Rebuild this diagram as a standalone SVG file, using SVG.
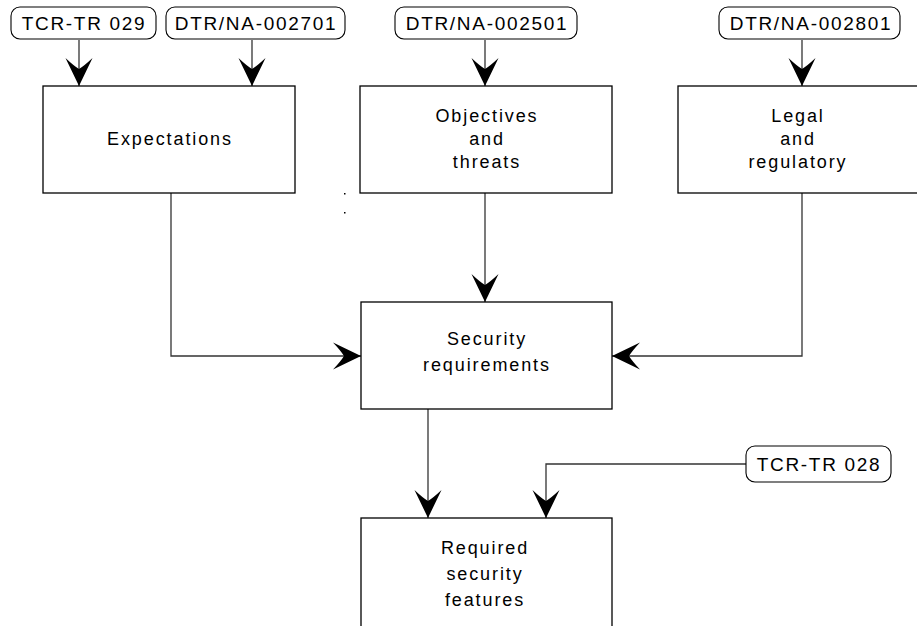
<svg xmlns="http://www.w3.org/2000/svg" width="917" height="626" viewBox="0 0 917 626">
<style>
.box{fill:#fff;stroke:#000;stroke-width:1.3}
.tag{fill:#fff;stroke:#000;stroke-width:1.1}
.t{font-family:"Liberation Sans",Arial,sans-serif;font-size:18px;letter-spacing:1.9px;text-anchor:middle;fill:#000}
.tg{font-family:"Liberation Sans",Arial,sans-serif;font-size:19px;letter-spacing:1.7px;text-anchor:middle;fill:#000}
.c{fill:none;stroke:#333;stroke-width:1.3;marker-end:url(#ah)}
</style>
<defs>
<marker id="ah" markerUnits="userSpaceOnUse" viewBox="-29 -15 30 30" refX="0" refY="0" markerWidth="30" markerHeight="30" orient="auto">
<path d="M0,0 L-28,-13.5 Q-20,-5 -17,0 Q-20,5 -28,13.5 Z" fill="#000"/>
</marker>
</defs>
<rect width="917" height="626" fill="#fff"/>
<g id="connectors">
<path class="c" d="M79,40 V86"/>
<path class="c" d="M252,40 V86"/>
<path class="c" d="M485,40 V86"/>
<path class="c" d="M802,40 V86"/>
<path class="c" d="M171,193 V356 H361"/>
<path class="c" d="M485,193 V302"/>
<path class="c" d="M802,193 V356 H612"/>
<path class="c" d="M428,409 V518"/>
<path class="c" d="M746,464 H546 V518"/>
</g>
<g id="tag-tcr029"><rect class="tag" x="11" y="7" width="145" height="32" rx="9"/><text class="tg" x="84" y="30">TCR-TR 029</text></g>
<g id="tag-dtr2701"><rect class="tag" x="166" y="7" width="179" height="32" rx="9"/><text class="tg" x="256" y="30">DTR/NA-002701</text></g>
<g id="tag-dtr2501"><rect class="tag" x="395" y="7" width="182" height="32" rx="9"/><text class="tg" x="487" y="30">DTR/NA-002501</text></g>
<g id="tag-dtr2801"><rect class="tag" x="719" y="7" width="181" height="32" rx="9"/><text class="tg" x="811" y="30">DTR/NA-002801</text></g>
<g id="tag-tcr028"><rect class="tag" x="746" y="446" width="145" height="36" rx="9"/><text class="tg" x="819" y="471">TCR-TR 028</text></g>
<g id="expectations"><rect class="box" x="43" y="86" width="252" height="107"/><text class="t" x="170" y="145">Expectations</text></g>
<g id="objectives"><rect class="box" x="360" y="86" width="252" height="107"/><text class="t" x="487" y="122">Objectives</text><text class="t" x="487" y="145">and</text><text class="t" x="487" y="168">threats</text></g>
<g id="legal"><rect class="box" x="678" y="86" width="242" height="107"/><text class="t" x="798" y="122">Legal</text><text class="t" x="798" y="145">and</text><text class="t" x="798" y="168">regulatory</text></g>
<g id="security"><rect class="box" x="361" y="302" width="251" height="107"/><text class="t" x="487" y="345">Security</text><text class="t" x="487" y="371">requirements</text></g>
<g id="required"><rect class="box" x="361" y="518" width="251" height="112"/><text class="t" x="485" y="554">Required</text><text class="t" x="485" y="580">security</text><text class="t" x="485" y="606">features</text></g>
<rect x="344" y="193" width="1.5" height="1.5" fill="#000"/>
<rect x="344" y="212" width="1.5" height="1.5" fill="#000"/>
</svg>
